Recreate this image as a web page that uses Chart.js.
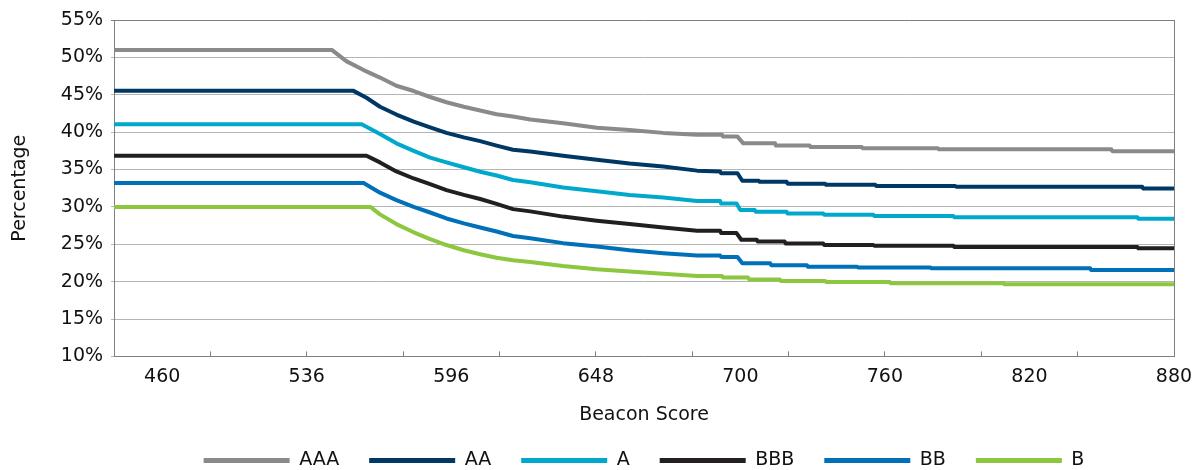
<!DOCTYPE html>
<html>
<head>
<meta charset="utf-8">
<script src="https://cdn.jsdelivr.net/npm/chart.js@4/dist/chart.umd.min.js"></script>
<style>
  html, body { margin: 0; padding: 0; background: #ffffff; }
  #wrap { width: 1197px; height: 470px; }
</style>
</head>
<body>
<div id="wrap"><canvas id="c" width="1197" height="470"></canvas></div>
<script>
// ---- data (x = position along the Beacon Score category axis, y = percentage) ----
const seriesNames = ['AAA', 'AA', 'A', 'BBB', 'BB', 'B'];

const scoreLabels = ['460', '536', '596', '648', '700', '760', '820', '880'];
const scoreLabelPos = [5, 20, 35, 50, 65, 80, 95, 110];
const tickMarkPos = [0, 10, 20, 30, 40, 50, 60, 70, 80, 90, 100, 110];

const yTicks = [10, 15, 20, 25, 30, 35, 40, 45, 50, 55];

const dataAAA = [[0,51.0],[22.6,51.0],[24.1,49.5],[25.9,48.3],[27.6,47.3],[29.3,46.2],[31.1,45.5],[32.8,44.7],[34.5,44.0],[36.3,43.4],[38.0,42.9],[39.7,42.4],[41.4,42.1],[43.2,41.7],[46.6,41.2],[50.1,40.6],[53.5,40.3],[57.0,39.9],[60.5,39.65],[63.1,39.65],[63.2,39.4],[64.7,39.4],[65.3,38.5],[68.6,38.5],[68.7,38.2],[72.2,38.2],[72.3,38.0],[77.6,38.0],[77.7,37.85],[85.5,37.85],[85.6,37.7],[103.5,37.7],[103.6,37.45],[110,37.45]];
const dataAA = [[0,45.55],[24.8,45.55],[26.2,44.6],[27.6,43.4],[29.3,42.35],[31.1,41.4],[32.8,40.65],[34.5,39.9],[36.3,39.3],[38.0,38.8],[39.7,38.2],[41.4,37.65],[43.2,37.4],[46.6,36.85],[50.1,36.3],[53.5,35.8],[57.0,35.4],[60.5,34.85],[62.9,34.75],[63.0,34.5],[64.7,34.5],[65.2,33.5],[66.9,33.5],[67.0,33.36],[69.8,33.36],[69.9,33.1],[73.8,33.1],[73.9,32.95],[79.0,32.95],[79.1,32.8],[87.3,32.8],[87.4,32.7],[106.7,32.7],[106.8,32.47],[110,32.47]];
const dataA = [[0,41.05],[25.7,41.05],[27.6,39.76],[29.3,38.5],[31.1,37.5],[32.8,36.6],[34.5,35.95],[36.3,35.3],[38.0,34.7],[39.7,34.2],[41.4,33.6],[43.2,33.3],[46.6,32.6],[50.1,32.1],[53.5,31.6],[57.0,31.25],[60.5,30.8],[62.9,30.8],[63.0,30.45],[64.6,30.45],[65.0,29.57],[66.5,29.57],[66.6,29.34],[69.8,29.34],[69.9,29.1],[73.6,29.1],[73.7,28.94],[78.8,28.94],[78.9,28.77],[87.1,28.77],[87.2,28.63],[106.2,28.63],[106.3,28.4],[110,28.4]];
const dataBBB = [[0,36.85],[26.2,36.85],[27.6,35.95],[29.3,34.75],[31.1,33.8],[32.8,33.05],[34.5,32.25],[36.3,31.6],[38.0,31.05],[39.7,30.4],[41.4,29.7],[43.2,29.4],[46.6,28.7],[50.1,28.15],[53.5,27.7],[57.0,27.25],[60.5,26.8],[62.9,26.8],[63.0,26.5],[64.6,26.5],[65.1,25.6],[66.7,25.6],[66.8,25.36],[69.6,25.36],[69.7,25.1],[73.6,25.1],[73.7,24.9],[78.8,24.9],[78.9,24.8],[87.1,24.8],[87.2,24.65],[106.2,24.65],[106.3,24.47],[110,24.47]];
const dataBB = [[0,33.2],[25.9,33.2],[27.6,31.9],[29.3,30.9],[31.1,30.0],[32.8,29.25],[34.5,28.45],[36.3,27.8],[38.0,27.25],[39.7,26.7],[41.4,26.1],[43.2,25.8],[46.6,25.15],[50.1,24.7],[53.5,24.2],[57.0,23.8],[60.5,23.5],[62.9,23.5],[63.0,23.3],[64.7,23.3],[65.2,22.45],[68.1,22.45],[68.2,22.2],[71.9,22.2],[72.0,22.0],[77.1,22.0],[77.2,21.9],[84.7,21.9],[84.8,21.8],[101.3,21.8],[101.4,21.55],[110,21.55]];
const dataB = [[0,30.0],[26.6,30.0],[27.6,29.0],[29.3,27.7],[31.1,26.6],[32.8,25.7],[34.5,24.9],[36.3,24.2],[38.0,23.67],[39.7,23.2],[41.4,22.87],[43.2,22.64],[46.6,22.1],[50.1,21.66],[53.5,21.35],[57.0,21.07],[60.5,20.76],[63.1,20.76],[63.2,20.54],[65.8,20.54],[65.9,20.3],[69.1,20.3],[69.2,20.1],[73.8,20.1],[73.9,19.96],[80.5,19.96],[80.6,19.8],[92.3,19.8],[92.4,19.65],[110,19.65]];

const seriesData = [dataAAA, dataAA, dataA, dataBBB, dataBB, dataB];
const seriesColors = ['#8a8a8d', '#003865', '#00a9cc', '#231f20', '#0070b8', '#8dc63f'];

// ---- chart ----
const FONT = 'DejaVu Sans';
const TEXT = '#111111';
const xTickValues = Array.from(new Set([...tickMarkPos, ...scoreLabelPos])).sort((a, b) => a - b);

new Chart(document.getElementById('c').getContext('2d'), {
  type: 'line',
  data: {
    datasets: seriesNames.map((name, i) => ({
      label: name,
      data: seriesData[i].map(p => ({ x: p[0], y: p[1] })),
      borderColor: seriesColors[i],
      backgroundColor: seriesColors[i],
      borderWidth: 4,
      pointRadius: 0,
      pointHoverRadius: 0,
      tension: 0,
      fill: false,
      borderJoinStyle: 'round'
    }))
  },
  options: {
    responsive: false,
    animation: false,
    devicePixelRatio: 1,
    layout: { padding: { top: 20, right: 23, left: 9, bottom: -10 } },
    plugins: {
      tooltip: { enabled: false },
      legend: {
        position: 'bottom',
        fullSize: false,
        labels: {
          usePointStyle: true,
          pointStyle: 'line',
          pointStyleWidth: 86,
          boxHeight: 5,
          padding: 30,
          color: TEXT,
          font: { family: FONT, size: 19 },
          generateLabels: (chart) =>
            Chart.defaults.plugins.legend.labels.generateLabels(chart).map(item => Object.assign(item, { lineWidth: 5 }))
        }
      }
    },
    scales: {
      x: {
        type: 'linear',
        min: 0,
        max: 110,
        afterBuildTicks: (scale) => { scale.ticks = xTickValues.map(v => ({ value: v })); },
        afterFit: (scale) => { scale.paddingRight = 0; scale.paddingLeft = 0; },
        ticks: {
          autoSkip: false,
          maxRotation: 0,
          padding: 14,
          color: TEXT,
          font: { family: FONT, size: 19 },
          callback: (v) => {
            const k = scoreLabelPos.indexOf(v);
            return k >= 0 ? scoreLabels[k] : '';
          }
        },
        grid: {
          drawOnChartArea: false,
          drawTicks: true,
          tickLength: -5,
          lineWidth: 1,
          color: (ctx) => (ctx.tick && tickMarkPos.includes(ctx.tick.value)) ? '#7f7f7f' : 'rgba(0,0,0,0)'
        },
        border: { color: '#7f7f7f', width: 1 },
        title: {
          display: true,
          text: 'Beacon Score',
          color: TEXT,
          font: { family: FONT, size: 19 },
          padding: { top: 1, bottom: -5 }
        }
      },
      y: {
        type: 'linear',
        min: 10,
        max: 55,
        afterBuildTicks: (scale) => { scale.ticks = yTicks.map(v => ({ value: v })); },
        afterFit: (scale) => { scale.paddingTop = 0; scale.paddingBottom = 0; },
        ticks: {
          padding: 8,
          color: TEXT,
          font: { family: FONT, size: 19 },
          callback: (v) => v + '%'
        },
        grid: {
          drawTicks: true,
          tickLength: 3,
          color: (ctx) => (ctx.tick && ctx.tick.value === 55) ? '#7f7f7f' : '#b4b4b4',
          lineWidth: 1
        },
        border: { color: '#7f7f7f', width: 1 },
        title: {
          display: true,
          text: 'Percentage',
          color: TEXT,
          font: { family: FONT, size: 19 },
          padding: { top: 0, bottom: 21 }
        }
      },
      yRight: {
        type: 'linear',
        position: 'right',
        min: 10,
        max: 55,
        afterFit: (scale) => { scale.width = 0; scale.paddingTop = 0; scale.paddingBottom = 0; },
        ticks: { display: false },
        grid: { drawOnChartArea: false, drawTicks: false },
        border: { color: '#7f7f7f', width: 1 }
      }
    }
  }
});
</script>
</body>
</html>
